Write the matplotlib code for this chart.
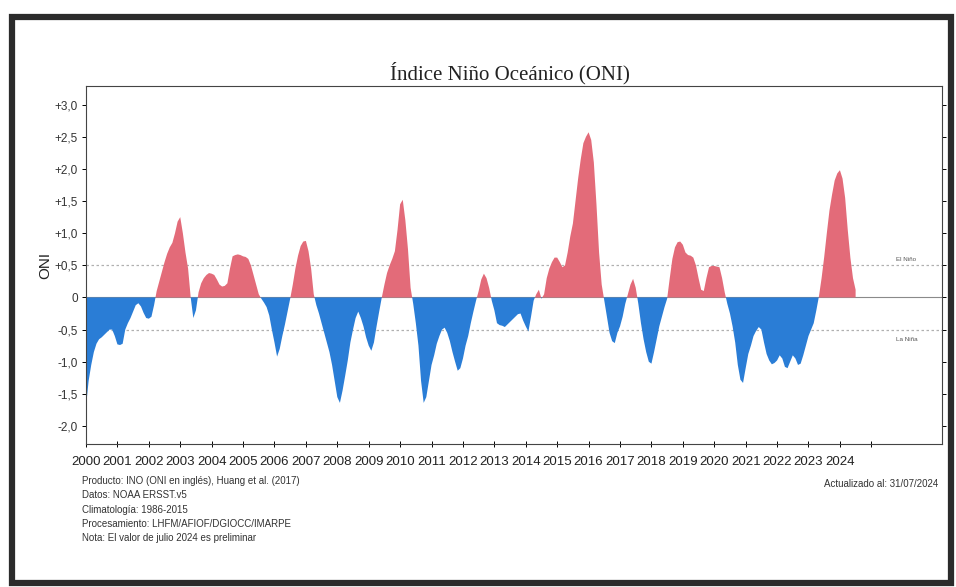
import numpy as np
import matplotlib
matplotlib.use('Agg')
from matplotlib import pyplot as plt
from matplotlib import font_manager
from matplotlib.patches import Rectangle

# monthly ONI values, Jan..Dec per year (2024 to July)
oni_2000 = [-1.70, -1.30, -1.05, -0.85, -0.72, -0.65, -0.62, -0.58, -0.54, -0.50, -0.50, -0.60]
oni_2001 = [-0.73, -0.74, -0.72, -0.50, -0.40, -0.32, -0.22, -0.12, -0.09, -0.14, -0.24, -0.32]
oni_2002 = [-0.33, -0.30, -0.12, 0.10, 0.25, 0.40, 0.55, 0.68, 0.78, 0.85, 1.00, 1.18]
oni_2003 = [1.25, 1.00, 0.70, 0.45, 0.00, -0.32, -0.20, 0.08, 0.22, 0.30, 0.35, 0.38]
oni_2004 = [0.37, 0.35, 0.28, 0.20, 0.17, 0.18, 0.22, 0.45, 0.64, 0.66, 0.67, 0.66]
oni_2005 = [0.64, 0.63, 0.60, 0.50, 0.35, 0.20, 0.05, -0.02, -0.08, -0.15, -0.28, -0.50]
oni_2006 = [-0.70, -0.92, -0.80, -0.60, -0.42, -0.22, -0.02, 0.20, 0.45, 0.65, 0.80, 0.87]
oni_2007 = [0.88, 0.72, 0.45, 0.05, -0.12, -0.25, -0.40, -0.55, -0.70, -0.85, -1.05, -1.30]
oni_2008 = [-1.55, -1.64, -1.45, -1.22, -0.98, -0.70, -0.50, -0.32, -0.22, -0.32, -0.45, -0.62]
oni_2009 = [-0.75, -0.83, -0.70, -0.45, -0.22, 0.00, 0.20, 0.38, 0.50, 0.60, 0.72, 1.05]
oni_2010 = [1.45, 1.52, 1.20, 0.75, 0.15, -0.10, -0.40, -0.75, -1.30, -1.64, -1.55, -1.30]
oni_2011 = [-1.05, -0.90, -0.72, -0.60, -0.50, -0.47, -0.55, -0.68, -0.85, -1.00, -1.14, -1.10]
oni_2012 = [-0.95, -0.75, -0.60, -0.40, -0.22, -0.05, 0.10, 0.28, 0.37, 0.30, 0.15, -0.05]
oni_2013 = [-0.20, -0.40, -0.43, -0.44, -0.46, -0.42, -0.38, -0.34, -0.30, -0.26, -0.25, -0.36]
oni_2014 = [-0.45, -0.53, -0.30, -0.05, 0.05, 0.12, -0.02, 0.05, 0.30, 0.45, 0.55, 0.62]
oni_2015 = [0.62, 0.55, 0.47, 0.50, 0.70, 0.95, 1.15, 1.50, 1.85, 2.15, 2.40, 2.50]
oni_2016 = [2.57, 2.45, 2.10, 1.45, 0.70, 0.20, -0.05, -0.30, -0.55, -0.68, -0.71, -0.55]
oni_2017 = [-0.45, -0.30, -0.10, 0.05, 0.20, 0.29, 0.15, -0.10, -0.40, -0.65, -0.85, -1.00]
oni_2018 = [-1.03, -0.85, -0.65, -0.45, -0.30, -0.15, -0.02, 0.30, 0.60, 0.78, 0.86, 0.87]
oni_2019 = [0.82, 0.70, 0.66, 0.65, 0.62, 0.50, 0.30, 0.12, 0.10, 0.30, 0.47, 0.49]
oni_2020 = [0.49, 0.48, 0.47, 0.30, 0.08, -0.10, -0.25, -0.45, -0.70, -1.05, -1.28, -1.33]
oni_2021 = [-1.10, -0.88, -0.75, -0.60, -0.52, -0.46, -0.50, -0.70, -0.88, -0.98, -1.04, -1.02]
oni_2022 = [-0.98, -0.90, -0.95, -1.08, -1.10, -1.00, -0.90, -0.95, -1.05, -1.03, -0.90, -0.75]
oni_2023 = [-0.60, -0.50, -0.40, -0.20, 0.02, 0.30, 0.63, 1.00, 1.35, 1.60, 1.82, 1.93]
oni_2024 = [1.98, 1.85, 1.55, 1.05, 0.62, 0.30, 0.12]

yticks = [3.0, 2.5, 2.0, 1.5, 1.0, 0.5, 0.0, -0.5, -1.0, -1.5, -2.0]
ytick_labels = ['+3,0', '+2,5', '+2,0', '+1,5', '+1,0', '+0,5', '0',
                '-0,5', '-1,0', '-1,5', '-2,0']
years = list(range(2000, 2026))
year_labels = [str(y) for y in range(2000, 2025)] + ['']

notes = ['Producto: INO (ONI en inglés), Huang et al. (2017)',
         'Datos: NOAA ERSST.v5',
         'Climatología: 1986-2015',
         'Procesamiento: LHFM/AFIOF/DGIOCC/IMARPE',
         'Nota: El valor de julio 2024 es preliminar']

oni = np.array(oni_2000 + oni_2001 + oni_2002 + oni_2003 + oni_2004 + oni_2005 +
               oni_2006 + oni_2007 + oni_2008 + oni_2009 + oni_2010 + oni_2011 +
               oni_2012 + oni_2013 + oni_2014 + oni_2015 + oni_2016 + oni_2017 +
               oni_2018 + oni_2019 + oni_2020 + oni_2021 + oni_2022 + oni_2023 +
               oni_2024)
t = 2000 + np.arange(len(oni)) / 12.0

installed = {f.name for f in font_manager.fontManager.ttflist}
narrow = 'Liberation Sans Narrow' if 'Liberation Sans Narrow' in installed else 'Liberation Sans'
plt.rcParams['font.family'] = ['Liberation Sans', 'DejaVu Sans']

W, H = 956, 587
fig = plt.figure(figsize=(W / 100, H / 100), dpi=100)
ax = fig.add_axes([86 / W, 1 - 444 / H, (942 - 86) / W, (444 - 86) / H])

red = '#e36b79'
blue = '#2a7dd6'
ax.fill_between(t, 0, oni, where=oni >= 0, interpolate=True, color=red, lw=0)
ax.fill_between(t, 0, oni, where=oni <= 0, interpolate=True, color=blue, lw=0)

ax.axhline(0, color='#8a8a8a', lw=0.8, zorder=0)
ax.axhline(0.5, color='#b0b0b0', lw=0.9, ls=(0, (2, 2)), zorder=0)
ax.axhline(-0.5, color='#b0b0b0', lw=0.9, ls=(0, (2, 2)), zorder=0)

ax.text(2025.8, 0.55, 'El Niño', fontsize=4.5, color='#555555', va='bottom')
ax.text(2025.8, -0.62, 'La Niña', fontsize=4.5, color='#555555', va='top')

ax.set_xlim(2000, 2027.25)
ax.set_ylim(-2.28, 3.29)
ax.set_yticks(yticks)
ax.set_yticklabels(ytick_labels, fontsize=8.5, color='#333333')
ax.set_xticks(years)
ax.set_xticklabels(year_labels, fontsize=9.5, color='#222222')
ax.tick_params(axis='x', direction='inout', length=5, width=0.7, pad=6)
ax.tick_params(axis='y', direction='out', length=3, width=0.7, right=True, pad=3)
for s in ax.spines.values():
    s.set_color('#444444')
    s.set_linewidth(0.8)

fig.text(45 / W, 1 - 265 / H, 'ONI', rotation=90, fontsize=11,
         ha='center', va='center', color='#222222')
fig.text(510 / W, 1 - 73 / H, 'Índice Niño Oceánico (ONI)', fontsize=15,
         family=['Liberation Serif', 'DejaVu Serif'], ha='center', va='center',
         color='#222222')

for i, line in enumerate(notes):
    fig.text(82 / W, 1 - (481 + 14.3 * i) / H, line, fontsize=7, family=[narrow, 'DejaVu Sans'],
             ha='left', va='center', color='#333333')
fig.text(938 / W, 1 - 484 / H, 'Actualizado al: 31/07/2024', fontsize=7,
         family=[narrow, 'DejaVu Sans'], ha='right', va='center', color='#333333')

# scanned page frame
fig.patches.append(Rectangle((12 / W, 1 - 583 / H), (951 - 12) / W, (583 - 17) / H,
                             transform=fig.transFigure, fill=False,
                             edgecolor='#2b2b2b', lw=4.5))

plt.savefig('out.png', dpi=100)
